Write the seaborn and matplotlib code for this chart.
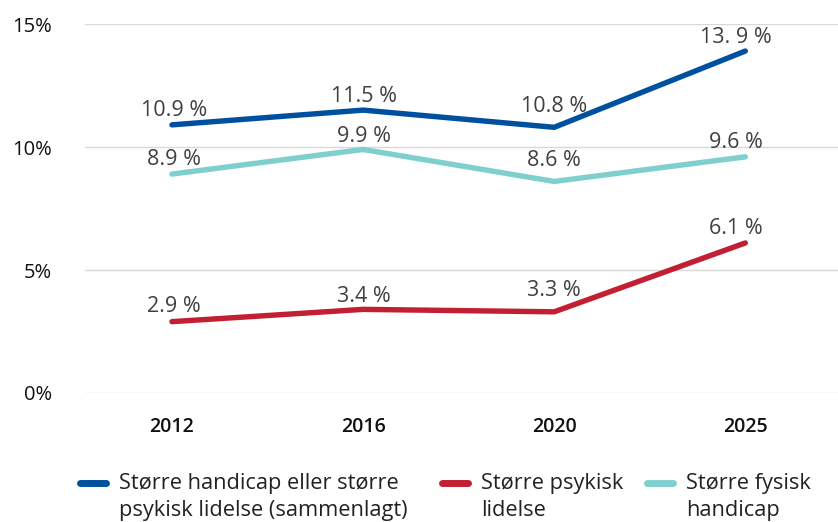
import matplotlib
matplotlib.use("Agg")
import matplotlib.pyplot as plt
import seaborn as sns
import pandas as pd
from matplotlib.lines import Line2D

years = ["2012", "2016", "2020", "2025"]
samlet = [10.9, 11.5, 10.8, 13.9]
psykisk = [2.9, 3.4, 3.3, 6.1]
fysisk = [8.9, 9.9, 8.6, 9.6]
samlet_labels = ["10.9 %", "11.5 %", "10.8 %", "13. 9 %"]
psykisk_labels = ["2.9 %", "3.4 %", "3.3 %", "6.1 %"]
fysisk_labels = ["8.9 %", "9.9 %", "8.6 %", "9.6 %"]
series_names = ["Større handicap eller større\npsykisk lidelse (sammenlagt)",
                "Større psykisk\nlidelse",
                "Større fysisk\nhandicap"]
colors = ["#0050A0", "#C21F32", "#80CFCF"]
y_ticks = [0, 5, 10, 15]
y_ticklabels = ["0%", "5%", "10%", "15%"]

# small nudges (points) for the value labels in each year column
label_dx = [1.5, 0.5, 0, -6.5]
label_dy = [3, 2, 7.5, 2.5]

sns.set_theme(style="white")
plt.rcParams["font.family"] = ["Open Sans", "DejaVu Sans"]

df = pd.DataFrame({
    "year": years * 3,
    "value": samlet + psykisk + fysisk,
    "series": [series_names[0]] * 4 + [series_names[1]] * 4 + [series_names[2]] * 4,
})

fig = plt.figure(figsize=(8.38, 5.22), dpi=100)
ax = fig.add_axes([85 / 838, 1 - 393 / 522, 1 - 85 / 838, (393 - 24) / 522])

sns.lineplot(data=df, x="year", y="value", hue="series", palette=colors,
             linewidth=3.9, ax=ax, legend=False, sort=False,
             solid_capstyle="round", solid_joinstyle="miter")

for vals, labs in [(samlet, samlet_labels), (psykisk, psykisk_labels), (fysisk, fysisk_labels)]:
    for i, (v, t) in enumerate(zip(vals, labs)):
        ax.annotate(t, (i, v), xytext=(label_dx[i], label_dy[i]), textcoords="offset points",
                    ha="center", va="bottom", fontsize=15.5, color="#404040")

ax.set_ylim(0, 15)
ax.set_xlim(-0.455, 3.485)
ax.set_yticks(y_ticks)
ax.set_yticklabels(y_ticklabels, fontsize=14.5, color="#111111")
ax.set_xticks(range(len(years)))
ax.set_xticklabels(years, fontsize=14, fontweight="semibold", color="#111111")
ax.tick_params(axis="y", pad=24, length=0)
ax.tick_params(axis="x", pad=17, length=0)
ax.grid(axis="y", color="#d9d9d9", linewidth=1)
ax.set_xlabel("")
ax.set_ylabel("")
for s in ax.spines.values():
    s.set_visible(False)

leg_x = [80, 442, 647]
for name, c, x in zip(series_names, colors, leg_x):
    h = Line2D([0], [0], color=c, linewidth=5, solid_capstyle="round")
    leg = fig.legend([h], [name], loc="center left", bbox_to_anchor=(x / 838, 1 - 497 / 522),
                     frameon=False, handlelength=1.2, handletextpad=0.58,
                     borderpad=0, borderaxespad=0,
                     prop={"size": 15.7}, labelcolor="#222222")
    for t in leg.get_texts():
        t.set_linespacing(1.42)
    for lh in leg.legend_handles:
        lh.set_ydata([y + 10 for y in lh.get_ydata()])

fig.savefig("out.png", dpi=100)
